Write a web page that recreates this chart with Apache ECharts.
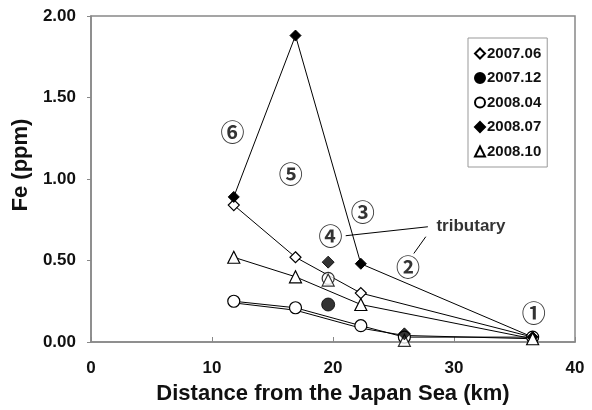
<!DOCTYPE html>
<html><head><meta charset="utf-8">
<script src="https://cdn.jsdelivr.net/npm/echarts@6/dist/echarts.min.js"></script>
<style>html,body{margin:0;padding:0;background:#fff}#c{width:592px;height:410px}</style>
</head><body><div id="c"></div>
<script>
// Main-stream stations (km from the Japan Sea)
const stationKm  = [11.8, 16.9, 22.3, 36.5];
const stationKmB = [11.8, 16.9, 22.3, 25.9, 36.5];
// Fe (ppm) per survey
const fe200706 = [0.84, 0.52, 0.30, 0.03];
const fe200807 = [0.89, 1.88, 0.48, 0.03];
const fe200810 = [0.52, 0.40, 0.23, 0.02];
const fe200804 = [0.25, 0.21, 0.10, 0.03, 0.03];
const fe200712 = [0.24, 0.195, 0.085, 0.04, 0.02];
// Unconnected points (tributary at 19.6 km, and 25.9 km)
const tribKm = 19.6;
const trib200712 = 0.23, trib200804 = 0.39, trib200810 = 0.38, trib200807 = 0.49;
const sideKm = 25.9;
const side200807 = 0.05, side200810 = 0.01;
// Site labels
const siteText = ['①','②','③','④','⑤','⑥'];
const siteKm   = [36.6, 26.2, 22.45, 19.8, 16.5, 11.7];
const siteFe   = [0.177, 0.463, 0.80, 0.65, 1.03, 1.29];
// Tributary annotation
const tribLabel = 'tributary';
const tribLabelPos = [31.4, 0.71];
const leader1 = [[21.05, 0.652], [27.84, 0.707]];
const leader2 = [[27.67, 0.646], [26.68, 0.543]];
const yTicks = [0, 0.5, 1.0, 1.5, 2.0];
const xTicks = [0, 10, 20, 30, 40];

const pairs = (xs, ys) => xs.map((x, i) => [x, ys[i]]);
const FONT = 'Liberation Sans, Arial, sans-serif';
const TXT = '#111';
const openStyle = {color: '#fff', borderColor: '#000', borderWidth: 1.2};
const fillStyle = {color: '#000', borderColor: '#000', borderWidth: 1};
const ln = {color: '#000', width: 1};

const chart = echarts.init(document.getElementById('c'));
chart.setOption({
  animation: false,
  backgroundColor: '#fff',
  grid: {left: 91, right: 17, top: 16, bottom: 66, show: true, borderColor: '#888', borderWidth: 1.5},
  legend: {
    orient: 'vertical', left: 468, top: 38, padding: [8, 6, 8, 6], itemGap: 9.5,
    itemWidth: 10, itemHeight: 10, borderColor: '#999', borderWidth: 1, selectedMode: false,
    textStyle: {fontFamily: FONT, fontWeight: 'bold', fontSize: 15, lineHeight: 14, color: TXT, padding: [0,0,0,-3]},
    data: [
      {name: '2007.06', icon: 'diamond'},
      {name: '2007.12', icon: 'circle'},
      {name: '2008.04', icon: 'circle'},
      {name: '2008.07', icon: 'diamond'},
      {name: '2008.10', icon: 'triangle'}
    ]
  },
  xAxis: {
    type: 'value', min: xTicks[0], max: xTicks[xTicks.length-1], interval: 10,
    name: 'Distance from the Japan Sea (km)', nameLocation: 'middle', nameGap: 41,
    nameTextStyle: {fontFamily: FONT, fontWeight: 'bold', fontSize: 22, color: TXT},
    axisLine: {lineStyle: {color: '#888', width: 1.5}},
    axisTick: {inside: true, length: 5, lineStyle: {color: '#888'}},
    axisLabel: {fontFamily: FONT, fontWeight: 'bold', fontSize: 17, color: TXT, margin: 18},
    splitLine: {show: false}
  },
  yAxis: {
    type: 'value', min: yTicks[0], max: yTicks[yTicks.length-1], interval: 0.5,
    name: 'Fe (ppm)', nameLocation: 'middle', nameGap: 58, nameRotate: 90,
    nameTextStyle: {fontFamily: FONT, fontWeight: 'bold', fontSize: 22, color: TXT, padding: [0, 0, 0, 28]},
    axisLine: {show: true, lineStyle: {color: '#888', width: 1.5}},
    axisTick: {show: true, length: 4, lineStyle: {color: '#888'}},
    axisLabel: {fontFamily: FONT, fontWeight: 'bold', fontSize: 17, color: TXT, margin: 15,
      formatter: v => v.toFixed(2)},
    splitLine: {show: false}
  },
  series: [
    {name: '2007.06', type: 'line', data: pairs(stationKm, fe200706), symbol: 'diamond', symbolSize: 11,
      itemStyle: openStyle, lineStyle: ln, z: 3},
    {name: '2007.12', type: 'line', data: pairs(stationKmB, fe200712), symbol: 'circle', showSymbol: false,
      itemStyle: fillStyle, lineStyle: ln, z: 2},
    {name: '2008.04', type: 'line', data: pairs(stationKmB, fe200804), symbol: 'circle', symbolSize: 12,
      itemStyle: openStyle, lineStyle: ln, z: 3},
    {name: '2008.07', type: 'line', data: pairs(stationKm, fe200807), symbol: 'diamond', symbolSize: 11,
      itemStyle: fillStyle, lineStyle: ln, z: 3},
    {name: '2008.10', type: 'line', data: pairs(stationKm, fe200810), symbol: 'triangle', symbolSize: 12,
      itemStyle: openStyle, lineStyle: ln, z: 3},
    {name: '2007.12', type: 'scatter', data: [[tribKm, trib200712]], symbol: 'circle', symbolSize: 13, itemStyle: fillStyle, z: 4},
    {name: '2008.04', type: 'scatter', data: [[tribKm, trib200804]], symbol: 'circle', symbolSize: 12, itemStyle: openStyle, z: 4},
    {name: '2008.10', type: 'scatter', data: [[tribKm, trib200810], [sideKm, side200810]], symbol: 'triangle', symbolSize: 12, itemStyle: openStyle, z: 4},
    {name: '2008.07', type: 'scatter', data: [[tribKm, trib200807], [sideKm, side200807]], symbol: 'diamond', symbolSize: 12, itemStyle: fillStyle, z: 4},
    {name: 'lead1', type: 'line', data: leader1, symbol: 'none', lineStyle: {color: '#000', width: 1}, silent: true},
    {name: 'lead2', type: 'line', data: leader2, symbol: 'none', lineStyle: {color: '#000', width: 1}, silent: true},
    {name: 'sites', type: 'scatter', silent: true, symbolSize: 1, itemStyle: {color: 'rgba(0,0,0,0)'},
      data: siteText.map((t, i) => ({value: [siteKm[i], siteFe[i]], label: {formatter: t}})),
      label: {show: true, position: 'inside', fontFamily: 'Noto Sans CJK JP', fontWeight: 'bold', fontSize: 24, color: '#000'}},
    {name: 'tribtext', type: 'scatter', silent: true, symbolSize: 1, itemStyle: {color: 'rgba(0,0,0,0)'},
      data: [{value: tribLabelPos, label: {formatter: tribLabel}}],
      label: {show: true, position: 'inside', fontFamily: FONT, fontWeight: 'bold', fontSize: 17, color: '#000'}}
  ]
});
</script></body></html>
